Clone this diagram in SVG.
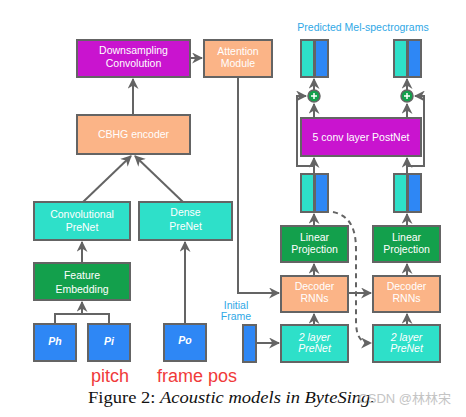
<svg xmlns="http://www.w3.org/2000/svg" width="466" height="417" viewBox="0 0 466 417">
<defs>
<marker id="ah" viewBox="0 0 10 10" refX="9" refY="5" markerWidth="5.5" markerHeight="5.5" orient="auto" markerUnits="strokeWidth">
<path d="M0,0 L10,5 L0,10 L3,5 z" fill="#646464"/>
</marker>
<style>
.b{stroke:#646464;stroke-width:2}
.mag{fill:#C914CF}.org{fill:#FBB487}.tea{fill:#2EE0C9}.grn{fill:#13A04C}.blu{fill:#2E87F5}
.t{font-family:"Liberation Sans",Arial,sans-serif;font-size:10.5px;fill:#fff;text-anchor:middle}
.ti{font-style:italic}
.tb{font-weight:bold;font-style:italic}
.c{fill:none;stroke:#646464;stroke-width:2}
.lbl{font-family:"Liberation Sans",Arial,sans-serif;fill:#2FA8E6;text-anchor:middle;font-size:10.5px}
.red{font-family:"Liberation Sans",Arial,sans-serif;fill:#F03A3A;font-size:18px}
</style>
</defs>
<rect width="466" height="417" fill="#fff"/>
<g id="connectors">
<path class="c" d="M190,58 H202" marker-end="url(#ah)"/>
<path class="c" d="M133,115 V79" marker-end="url(#ah)"/>
<path class="c" d="M83,202 L131,156" marker-end="url(#ah)"/>
<path class="c" d="M183,202 L135,156" marker-end="url(#ah)"/>
<path class="c" d="M82,263 V242" marker-end="url(#ah)"/>
<path class="c" d="M55,324 V314 H109 V324 M82,314 V302" marker-end="url(#ah)"/>
<path class="c" d="M185,324 V242" marker-end="url(#ah)"/>
<path class="c" d="M238,77 V293 H279" marker-end="url(#ah)"/>
<path class="c" d="M256,343 H279" marker-end="url(#ah)"/>
<path class="c" d="M314,325 V314" marker-end="url(#ah)"/>
<path class="c" d="M314,276 V264" marker-end="url(#ah)"/>
<path class="c" d="M314,226 V214" marker-end="url(#ah)"/>
<path class="c" d="M407,325 V314" marker-end="url(#ah)"/>
<path class="c" d="M407,276 V264" marker-end="url(#ah)"/>
<path class="c" d="M407,226 V214" marker-end="url(#ah)"/>
<path class="c" d="M348,293 H371" marker-end="url(#ah)"/>
<path class="c" d="M333,212 C352,216 356,232 356,250 V320 C356,336 360,343 371,343" stroke-dasharray="5,4" marker-end="url(#ah)"/>
<path class="c" d="M314,174 V158" marker-end="url(#ah)"/>
<path class="c" d="M407,174 V158" marker-end="url(#ah)"/>
<path class="c" d="M314,118 V104" marker-end="url(#ah)"/>
<path class="c" d="M407,118 V104" marker-end="url(#ah)"/>
<path class="c" d="M314,90 V79" marker-end="url(#ah)"/>
<path class="c" d="M407,90 V79" marker-end="url(#ah)"/>
<path class="c" d="M314,166 H297 V96 H306" marker-end="url(#ah)"/>
<path class="c" d="M407,166 H424 V96 H415" marker-end="url(#ah)"/>
</g>
<g id="downsampling"><rect class="b mag" x="77" y="40" width="113" height="37"/><text class="t" x="133.5" y="54">Downsampling</text><text class="t" x="133.5" y="67">Convolution</text></g>
<g id="attention"><rect class="b org" x="204" y="40" width="68" height="37"/><text class="t" x="238" y="55">Attention</text><text class="t" x="238" y="67">Module</text></g>
<g id="cbhg"><rect class="b org" x="77" y="115" width="113" height="39"/><text class="t" x="133.5" y="138">CBHG encoder</text></g>
<g id="convprenet"><rect class="b tea" x="34" y="202" width="96" height="38"/><text class="t" x="82" y="218">Convolutional</text><text class="t" x="82" y="231">PreNet</text></g>
<g id="denseprenet"><rect class="b tea" x="139" y="202" width="93" height="38"/><text class="t" x="185.5" y="216">Dense</text><text class="t" x="185.5" y="230">PreNet</text></g>
<g id="featemb"><rect class="b grn" x="34" y="263" width="96" height="37"/><text class="t" x="82" y="279">Feature</text><text class="t" x="82" y="293">Embedding</text></g>
<g id="ph"><rect class="b blu" x="34" y="324" width="42" height="37"/><text class="t tb" x="55" y="345">Ph</text></g>
<g id="pi"><rect class="b blu" x="88" y="324" width="42" height="37"/><text class="t tb" x="109" y="345">Pi</text></g>
<g id="po"><rect class="b blu" x="164" y="324" width="42" height="37"/><text class="t tb" x="185" y="344">Po</text></g>
<g id="initframe"><text class="lbl" x="236" y="309">Initial</text><text class="lbl" x="236" y="320">Frame</text><rect class="b blu" x="243" y="325" width="13" height="37"/></g>
<g id="prenet1"><rect class="b tea" x="281" y="325" width="67" height="37"/><text class="t ti" x="314.5" y="341">2 layer</text><text class="t ti" x="314.5" y="352">PreNet</text></g>
<g id="decoder1"><rect class="b org" x="281" y="276" width="67" height="36"/><text class="t" x="314.5" y="290">Decoder</text><text class="t" x="314.5" y="302">RNNs</text></g>
<g id="linproj1"><rect class="b grn" x="281" y="226" width="67" height="36"/><text class="t" x="314.5" y="241">Linear</text><text class="t" x="314.5" y="253">Projection</text></g>
<g id="prenet2"><rect class="b tea" x="373" y="325" width="67" height="37"/><text class="t ti" x="406.5" y="341">2 layer</text><text class="t ti" x="406.5" y="352">PreNet</text></g>
<g id="decoder2"><rect class="b org" x="373" y="276" width="67" height="36"/><text class="t" x="406.5" y="290">Decoder</text><text class="t" x="406.5" y="302">RNNs</text></g>
<g id="linproj2"><rect class="b grn" x="373" y="226" width="67" height="36"/><text class="t" x="406.5" y="241">Linear</text><text class="t" x="406.5" y="253">Projection</text></g>
<g id="mel1"><rect class="b tea" x="301" y="174" width="13" height="38"/><rect class="b blu" x="315" y="174" width="13" height="38"/></g>
<g id="mel2"><rect class="b tea" x="394" y="174" width="13" height="38"/><rect class="b blu" x="408" y="174" width="13" height="38"/></g>
<g id="postnet"><rect class="b mag" x="301" y="118" width="120" height="38"/><text class="t" x="361" y="141">5 conv layer PostNet</text></g>
<g id="plus1"><circle cx="314" cy="96" r="6" fill="#13A04C" stroke="#646464" stroke-width="1.5"/><path d="M311,96 H317 M314,93 V99" stroke="#fff" stroke-width="1.5"/></g>
<g id="plus2"><circle cx="407" cy="96" r="6" fill="#13A04C" stroke="#646464" stroke-width="1.5"/><path d="M404,96 H410 M407,93 V99" stroke="#fff" stroke-width="1.5"/></g>
<g id="out1"><rect class="b tea" x="301" y="40" width="13" height="37"/><rect class="b blu" x="315" y="40" width="13" height="37"/></g>
<g id="out2"><rect class="b tea" x="394" y="40" width="13" height="37"/><rect class="b blu" x="408" y="40" width="13" height="37"/></g>
<text class="lbl" x="363" y="31">Predicted Mel-spectrograms</text>
<text class="red" x="91" y="382">pitch</text>
<text class="red" x="157" y="382">frame pos</text>
<text x="88" y="403" font-family="'Liberation Serif','Times New Roman',serif" font-size="17" fill="#111" textLength="287" lengthAdjust="spacingAndGlyphs">Figure 2: <tspan font-style="italic">Acoustic models in ByteSing.</tspan></text>
<text x="451" y="403" text-anchor="end" font-family="'Liberation Sans','Noto Sans CJK SC',sans-serif" font-size="13" fill="#c4c4c4">CSDN @林林宋</text>
</svg>
